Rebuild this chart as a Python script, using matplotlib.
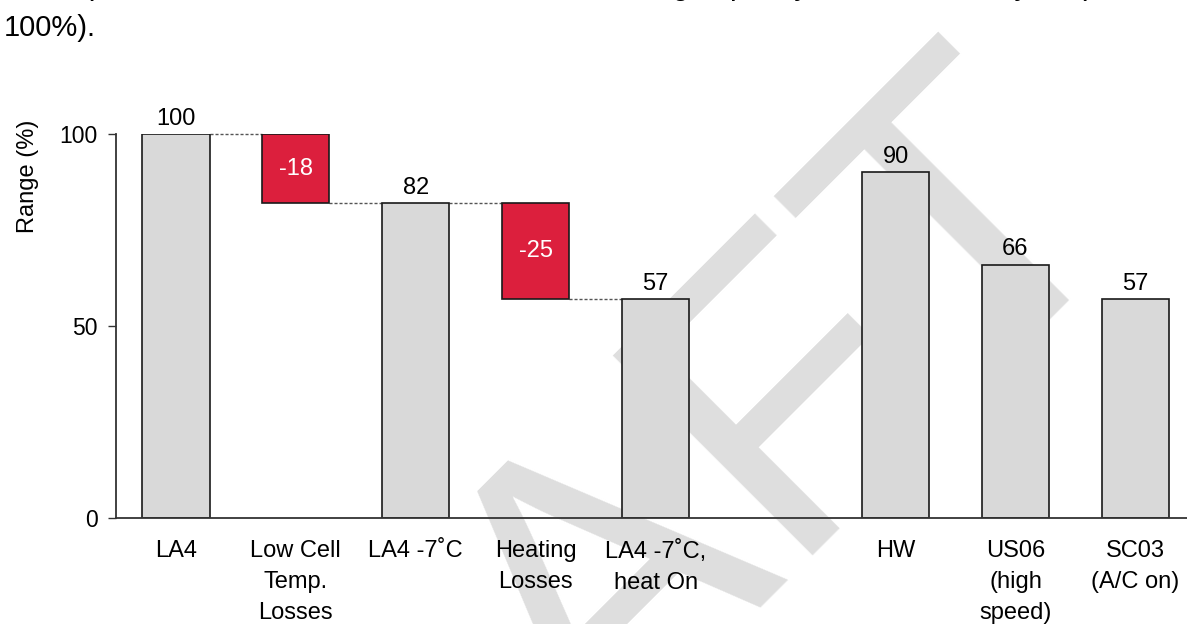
import matplotlib
matplotlib.use("Agg")
import matplotlib.pyplot as plt

plt.rcParams['font.family'] = ['Liberation Sans', 'DejaVu Sans']

# ---- Data ----
start_label = "LA4"
start_range = 100  # percent
loss_labels = ["Low Cell\nTemp.\nLosses", "Heating\nLosses"]
loss_values = [-18, -25]
step_labels = ["LA4 -7˚C", "LA4 -7˚C,\nheat On"]
cycle_labels = ["HW", "US06\n(high\nspeed)", "SC03\n(A/C on)"]
cycle_ranges = [90, 66, 57]
y_ticks = [0, 50, 100]

# ---- Style ----
BAR_GREY = '#d9d9d9'
LOSS_RED = '#dc1f3d'
EDGE = '#1a1a1a'
WIDTH = 0.56
FS = 17


def value_label(ax, x, y, text):
    ax.annotate(text, (x, y), xytext=(0, 3), textcoords='offset points',
                ha='center', va='bottom', fontsize=FS, clip_on=False)


def connector(ax, x0, x1, y):
    ax.plot([x0 + WIDTH / 2, x1 - WIDTH / 2], [y, y], color='#555555',
            lw=1.0, ls=(0, (2.2, 1.4)), zorder=1, clip_on=False)


fig = plt.figure(figsize=(11.87, 6.24), dpi=100)
ax = fig.add_axes([0.0977, 0.1699, 0.9023, 0.6154])
ax.patch.set_visible(False)

# ---- Waterfall: LA4 -> losses -> cold-start totals ----
labels = []
positions = []
x = 0
level = start_range
ax.bar(x, level, WIDTH, color=BAR_GREY, edgecolor=EDGE, lw=1.2, zorder=2)
value_label(ax, x, level, str(level))
labels.append(start_label)
positions.append(x)

for loss, loss_name, step_name in zip(loss_values, loss_labels, step_labels):
    # red loss box hanging from the previous level
    connector(ax, x, x + 1, level)
    x += 1
    ax.bar(x, -loss, WIDTH, bottom=level + loss, color=LOSS_RED,
           edgecolor=EDGE, lw=1.2, zorder=2)
    ax.text(x, level + loss / 2, str(loss), ha='center', va='center',
            color='white', fontsize=FS, zorder=3)
    labels.append(loss_name)
    positions.append(x)

    level += loss
    connector(ax, x, x + 1, level)
    x += 1
    ax.bar(x, level, WIDTH, color=BAR_GREY, edgecolor=EDGE, lw=1.2, zorder=2)
    value_label(ax, x, level, str(level))
    labels.append(step_name)
    positions.append(x)

# ---- Other drive cycles, after an empty slot ----
x += 1
for name, rng in zip(cycle_labels, cycle_ranges):
    x += 1
    ax.bar(x, rng, WIDTH, color=BAR_GREY, edgecolor=EDGE, lw=1.2, zorder=2)
    value_label(ax, x, rng, str(rng))
    labels.append(name)
    positions.append(x)

# ---- Axes ----
ax.set_xlim(-0.5, 8.43)
ax.set_ylim(0, 100)
ax.set_yticks(y_ticks)
ax.set_xticks(positions)
ax.set_xticklabels(labels, fontsize=17, linespacing=1.52)
ax.tick_params(axis='x', length=0, pad=16)
ax.tick_params(axis='y', length=6, width=1.0, pad=7, labelsize=16.5,
               color='#333333')
for side in ('top', 'right'):
    ax.spines[side].set_visible(False)
for side in ('left', 'bottom'):
    ax.spines[side].set_color('#333333')
    ax.spines[side].set_linewidth(1.3)
ax.set_ylabel("Range (%)", fontsize=FS)
ax.yaxis.set_label_coords(-0.072, 0.89)

# ---- Caption (runs off the top) and watermark ----
fig.text(0.003, 1.0 + 6 / 624,
         "A comparison of the total electric vehicle remaining capacity "
         "in each drive cycle (LA4 =",
         fontsize=22, ha='left', va='baseline')
fig.text(0.003, 1 - 36 / 624, "100%).", fontsize=21, ha='left', va='baseline')

fig.text(650 / 1187, -60 / 624, "DRAFT", fontsize=296, color='#dedede',
         rotation=45, rotation_mode='anchor', ha='center',
         va='baseline', zorder=-1)

fig.savefig("out.png", dpi=100)
